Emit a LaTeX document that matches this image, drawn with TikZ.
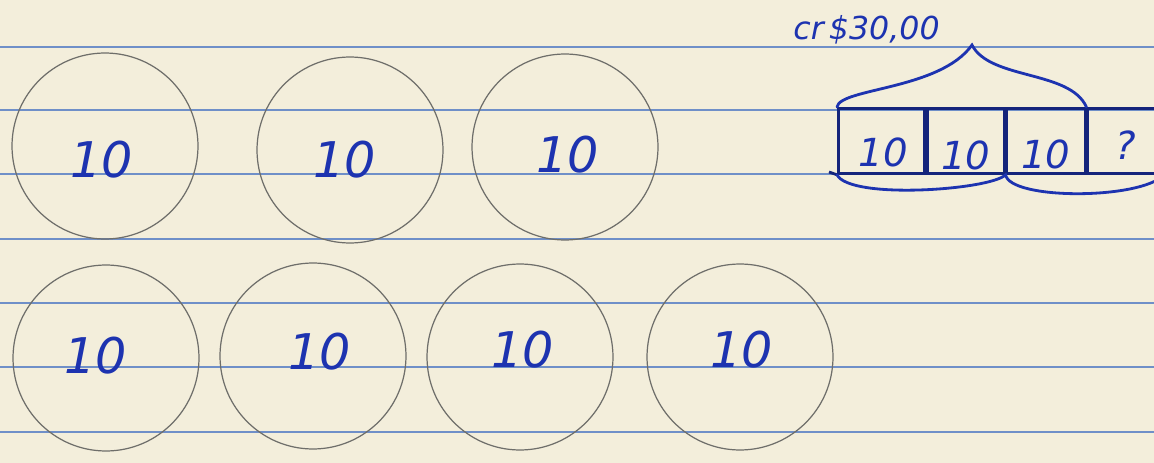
\documentclass[tikz,border=0pt]{standalone}
\usepackage{fontspec}
\setmainfont{DejaVu Sans}
\definecolor{paper}{HTML}{F3EEDB}
\definecolor{rule}{HTML}{6F8FC8}
\definecolor{ink}{HTML}{1D33B0}
\definecolor{pencil}{HTML}{6E6E6A}
\tikzset{
  coin/.style={circle,draw=pencil,line width=0.7pt,minimum size=3.72cm,inner sep=0pt},
  num/.style={text=ink,font=\itshape\fontsize{28}{28}\selectfont,inner sep=0pt},
  barnum/.style={text=ink,font=\itshape\fontsize{22}{22}\selectfont,inner sep=0pt},
  cell/.style={draw=ink!70!black,line width=1.6pt,minimum height=1.3cm,inner sep=0pt},
  brace/.style={draw=ink,line width=1.6pt,line cap=round},
  ruled/.style={draw=rule,line width=0.6pt}
}
\begin{document}
\begin{tikzpicture}[x=0.02cm,y=-0.02cm]
\fill[paper] (0,0) rectangle (1154,463);
\useasboundingbox (0,0) rectangle (1154,463);
% ruled lines
\foreach \yy in {47,110,174,239,303,367,432}{
  \draw[ruled] (0,\yy) -- (1154,\yy);
}
% top row coins
\node[coin] (c1) at (105,146) {};
\node[coin] (c2) at (350,150) {};
\node[coin] (c3) at (565,147) {};
\node[num] (n1) at (102,160) {10};
\node[num] (n2) at (345,160) {10};
\node[num] (n3) at (568,155) {10};
% bottom row coins
\node[coin] (c4) at (106,358) {};
\node[coin] (c5) at (313,356) {};
\node[coin] (c6) at (520,357) {};
\node[coin] (c7) at (740,357) {};
\node[num] (n4) at (96,356) {10};
\node[num] (n5) at (320,352) {10};
\node[num] (n6) at (523,350) {10};
\node[num] (n7) at (742,350) {10};
% bar
\node[cell,minimum width=1.72cm,anchor=north west] (b1) at (837,107) {};
\node[cell,minimum width=1.54cm,anchor=north west] (b2) at (b1.north east) {};
\node[cell,minimum width=1.56cm,anchor=north west] (b3) at (b2.north east) {};
\node[cell,minimum width=1.50cm,anchor=north west] (b4) at (b3.north east) {};
\node[barnum] at ([shift={(2,12)}]b1.center) {10};
\node[barnum] at ([shift={(0,15)}]b2.center) {10};
\node[barnum] at ([shift={(0,14)}]b3.center) {10};
\node[barnum] at ([shift={(0,4)}]b4.center) {?};
\coordinate (barleft) at (829,172);
\draw[ink!70!black,line width=1.6pt] (barleft) -- (b1.south west);
% braces
\coordinate (peak) at (972,45);
\draw[brace] (b1.north west) .. controls (840,88) and (940,90) .. (peak)
  .. controls (990,80) and (1070,70) .. (b4.north west);
\draw[brace] (b1.south west) .. controls (850,200) and (990,190) .. (b3.south west)
  .. controls (1010,200) and (1140,200) .. (b4.south east);
% label
\node[text=ink,font=\itshape\fontsize{18}{18}\selectfont,inner sep=0pt,anchor=west] (lab) at (793,30) {cr\,\$30,00};
\end{tikzpicture}
\end{document}
